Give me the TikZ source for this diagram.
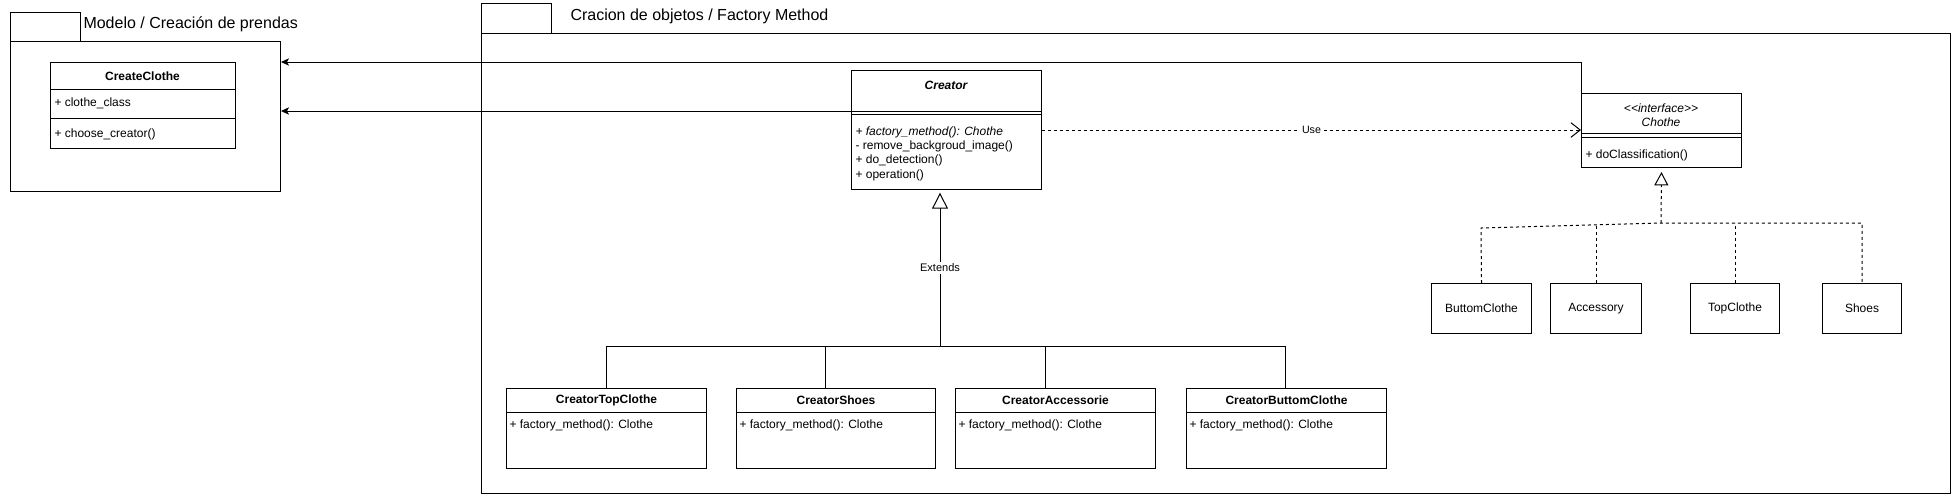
\documentclass[tikz,border=0pt]{standalone}
\usepackage{fontspec}
\setmainfont{Liberation Sans}[Ligatures=TeXOff]
\usetikzlibrary{arrows.meta}
\begin{document}
\begin{tikzpicture}[x=0.75pt,y=-0.75pt,line width=0.75pt,
  box/.style={draw,rectangle,inner sep=0pt,anchor=north west},
  sz/.style 2 args={minimum width=#1*0.75pt,minimum height=#2*0.75pt},
  lbl/.style={inner sep=0pt,font=\fontsize{9}{11}\selectfont},
  ttl/.style={inner sep=0pt,font=\fontsize{12}{14}\selectfont},
  elbl/.style={fill=white,inner sep=1.2pt,font=\fontsize{8}{10}\selectfont},
  dsh/.style={dash pattern=on 2.25pt off 2.25pt},
  assoc/.style={-{Stealth[length=6pt,width=5.5pt,inset=1.5pt]}},
  gen/.style={-{Triangle[open,length=12pt,width=12pt]},shorten >=2pt},
  real/.style={dsh,-{Triangle[open,length=10pt,width=10.5pt]},shorten >=3pt},
  dep/.style={dsh,-{Straight Barb[length=7pt,width=11pt]}}]
\useasboundingbox (0,0) rectangle (1951,494);

% ---- left package
\node[box,sz={70}{29}] (pAtab) at (10,12) {};
\node[box,sz={270}{150}] (pA) at (10,41) {};
\node[ttl,anchor=west] (pAt) at (83,24) {Modelo / Creación de prendas};

\node[box,sz={185}{86}] (cc) at (50,62) {};
\draw (cc.west |- 0,89) -- (cc.east |- 0,89);
\draw (cc.west |- 0,118) -- (cc.east |- 0,118);
\node[lbl,font=\fontsize{9}{11}\selectfont\bfseries] (ccT) at (142.5,76) {CreateClothe};
\node[lbl,anchor=west] (cc1) at (54,103) {+ clothe\_class};
\node[lbl,anchor=west] (cc2) at (54,134) {+ choose\_creator()};

% ---- right package
\node[box,sz={70}{30}] (pBtab) at (481,3) {};
\node[box,sz={1469}{460}] (pB) at (481,33) {};
\node[ttl,anchor=west] (pBt) at (570,16) {Cracion de objetos / Factory Method};

% Creator
\node[box,sz={190}{119}] (cr) at (851,70) {};
\draw (cr.west |- 0,111) -- (cr.east |- 0,111);
\draw (cr.west |- 0,114) -- (cr.east |- 0,114);
\node[lbl,font=\fontsize{9}{11}\selectfont\bfseries\itshape] (crT) at (946,85) {Creator};
\node[lbl,anchor=west,font=\fontsize{9}{11}\selectfont\itshape] (cr1) at (855,132) {+ factory\_method(): Chothe};
\node[lbl,anchor=west] (cr2) at (855,146.5) {- remove\_backgroud\_image()};
\node[lbl,anchor=west] (cr3) at (855,160.5) {+ do\_detection()};
\node[lbl,anchor=west] (cr4) at (855,175) {+ operation()};

% Chothe
\node[box,sz={160}{74}] (ch) at (1581,93) {};
\draw (ch.west |- 0,133) -- (ch.east |- 0,133);
\draw (ch.west |- 0,137) -- (ch.east |- 0,137);
\node[lbl,font=\fontsize{9}{11}\selectfont\itshape] (chS) at (1661,108) {<<interface>>};
\node[lbl,font=\fontsize{9}{11}\selectfont\itshape] (chT) at (1661,122) {Chothe};
\node[lbl,anchor=west] (ch1) at (1585,155) {+ doClassification()};

% concrete clothes
\node[box,sz={100}{50}] (bc) at (1431,283) {};
\node[lbl] at (bc.center) {ButtomClothe};
\node[box,sz={91}{50}] (ac) at (1550,283) {};
\node[lbl] at (ac.center) {Accessory};
\node[box,sz={89}{50}] (tc) at (1690,283) {};
\node[lbl] at (tc.center) {TopClothe};
\node[box,sz={79}{50}] (sh) at (1822,283) {};
\node[lbl] at (sh.center) {Shoes};

% concrete creators
\node[box,sz={200}{80}] (ctc) at (506,388) {};
\node[box,sz={199}{80}] (cs) at (736,388) {};
\node[box,sz={200}{80}] (ca) at (955,388) {};
\node[box,sz={200}{80}] (cbc) at (1186,388) {};
\foreach \n/\t in {ctc/CreatorTopClothe,cs/CreatorShoes,ca/CreatorAccessorie,cbc/CreatorButtomClothe}{
  \draw (\n.west |- 0,412) -- (\n.east |- 0,412);
  \node[lbl,font=\fontsize{9}{11}\selectfont\bfseries] at (\n.center |- 0,400) {\t};
  \node[lbl,anchor=west,xshift=2.25pt] at (\n.west |- 0,425) {+ factory\_method(): Clothe};
}

% ---- connectors
\coordinate (j) at (940,346);
\draw (ctc.north) |- (j);
\draw (cs.north -| 825,0) |- (j);
\draw (ca.north -| 1045,0) |- (j);
\draw (cbc.north -| 1285,0) |- (j);
\draw[gen] (j) -- node[elbl,pos=0.5,font=\fontsize{8.25}{10}\selectfont] {Extends} (cr.south -| j);

\draw[dep] (cr.east |- 0,130) -- node[elbl] {Use} (ch.west |- 0,130);

\coordinate (r0) at (1661,223);
\coordinate (rb) at (1481,228);
\draw[dsh] (bc.north) -- (rb) -- (r0) -| (sh.north);
\draw[dsh] (ac.north) -- (ac.north |- 0,224.9);
\draw[dsh] (tc.north) -- (tc.north |- r0);
\draw[real] (r0) -- (ch.south);

\draw[assoc] (ch.north west) |- (pA.east |- 0,62);
\draw[assoc] (cr.west |- 0,111) -- (pA.east |- 0,111);
\end{tikzpicture}
\end{document}
